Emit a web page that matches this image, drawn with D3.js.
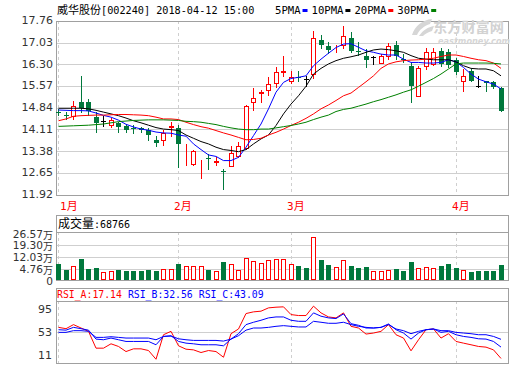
<!DOCTYPE html>
<html><head><meta charset="utf-8">
<script src="https://cdn.jsdelivr.net/npm/d3@7"></script>
<style>body{margin:0;background:#fff}svg{display:block}</style>
</head><body><svg id="c" width="520" height="365"></svg>
<script>
const stockName = "威华股份", stockCode = "002240", stamp = "2018-04-12 15:00";
const dates = ["2018-01-10","2018-01-11","2018-01-12","2018-01-15","2018-01-16","2018-01-17","2018-01-18","2018-01-19","2018-01-22","2018-01-23",
"2018-01-24","2018-01-25","2018-01-26","2018-01-29","2018-01-30","2018-01-31",
"2018-02-01","2018-02-02","2018-02-05","2018-02-06","2018-02-07","2018-02-08","2018-02-09","2018-02-12","2018-02-13","2018-02-14",
"2018-02-22","2018-02-23","2018-02-26","2018-02-27","2018-02-28",
"2018-03-01","2018-03-02","2018-03-05","2018-03-06","2018-03-07","2018-03-08","2018-03-09","2018-03-12","2018-03-13","2018-03-14",
"2018-03-15","2018-03-16","2018-03-19","2018-03-20","2018-03-21","2018-03-22","2018-03-23","2018-03-26","2018-03-27","2018-03-28",
"2018-03-29","2018-03-30",
"2018-04-02","2018-04-03","2018-04-04","2018-04-09","2018-04-10","2018-04-11","2018-04-12"];
const open = [14.69,14.58,14.55,15.04,15.02,14.54,14.40,14.27,14.31,14.22,
14.14,14.16,14.09,13.75,13.75,14.19,14.16,13.31,12.93,13.04,
13.15,13.00,12.70,12.89,13.23,13.49,15.02,15.32,15.44,15.67,
16.04,15.75,15.86,15.82,15.97,17.11,16.90,16.80,16.95,17.17,
16.76,16.56,16.53,16.34,16.58,16.94,16.46,16.23,15.24,16.25,
16.31,16.75,16.72,16.45,15.75,16.08,15.58,15.73,15.71,15.49];
const high = [14.78,14.68,15.07,15.91,15.13,14.68,14.55,14.48,14.37,14.29,
14.24,14.20,14.17,13.90,14.10,14.35,14.26,13.62,13.42,13.08,
13.28,13.17,12.78,13.56,13.68,14.93,15.49,15.44,15.86,16.19,
16.58,16.08,16.08,15.91,17.42,17.28,17.05,16.95,17.60,17.39,
17.05,16.81,16.59,16.64,17.03,17.09,16.64,16.36,16.23,16.86,
16.86,16.86,16.81,16.50,16.14,16.14,15.91,15.75,15.72,15.52];
const low = [14.58,14.46,14.44,14.68,14.59,14.03,14.22,14.15,14.03,14.01,
13.99,14.03,13.75,13.54,13.56,13.85,12.84,12.89,12.87,12.45,
12.78,12.89,12.09,12.87,13.14,13.43,14.74,15.00,15.24,15.51,
15.86,15.63,15.72,15.58,15.82,16.83,16.67,16.67,16.81,16.70,
16.61,16.19,16.31,16.31,16.45,16.47,16.36,15.04,15.22,16.12,
16.25,16.25,16.19,15.97,15.38,15.72,15.52,15.41,15.50,14.74];
const close = [14.65,14.57,14.88,14.82,14.74,14.31,14.40,14.44,14.20,14.09,
14.13,14.09,13.93,13.64,13.99,14.22,13.62,13.33,13.37,13.06,
13.14,13.05,12.69,13.31,13.54,14.91,15.15,15.38,15.62,16.03,
16.06,15.86,15.83,15.82,17.17,16.95,16.79,16.82,17.26,16.75,
16.75,16.45,16.53,16.56,16.90,16.58,16.45,15.58,16.16,16.70,
16.72,16.31,16.27,16.03,15.89,15.75,15.58,15.66,15.52,14.74];
const ma5 = [14.76,14.75,14.74,14.74,14.73,14.66,14.58,14.52,14.42,14.28,
14.19,14.12,14.08,14.02,13.99,13.98,13.92,13.88,13.62,13.43,
13.25,13.20,13.06,13.06,13.17,13.51,13.90,14.29,14.80,15.36,
15.69,15.82,15.86,15.91,16.25,16.47,16.67,16.86,16.98,16.99,
16.87,16.75,16.70,16.64,16.61,16.61,16.47,16.36,16.36,16.34,
16.34,16.36,16.45,16.38,16.19,15.97,15.80,15.71,15.63,15.47];
const ma10 = [14.82,14.82,14.82,14.82,14.80,14.75,14.69,14.63,14.57,14.49,
14.40,14.33,14.25,14.17,14.12,14.10,14.07,13.92,13.81,13.70,
13.62,13.51,13.43,13.40,13.36,13.43,13.62,13.79,13.92,14.24,
14.63,14.96,15.24,15.56,15.97,16.16,16.31,16.42,16.50,16.55,
16.61,16.70,16.78,16.81,16.79,16.75,16.70,16.59,16.50,16.47,
16.45,16.45,16.45,16.38,16.25,16.16,16.14,16.14,16.08,15.91];
const ma20 = [14.40,14.46,14.55,14.57,14.58,14.59,14.59,14.60,14.61,14.61,
14.60,14.59,14.57,14.52,14.46,14.46,14.44,14.35,14.27,14.20,
14.15,14.07,13.99,13.92,13.84,13.76,13.77,13.81,13.92,14.01,
14.12,14.24,14.35,14.48,14.63,14.80,14.93,15.08,15.24,15.33,
15.52,15.71,15.91,16.16,16.31,16.38,16.42,16.44,16.45,16.47,
16.50,16.56,16.61,16.61,16.56,16.50,16.45,16.42,16.34,16.16];
const ma30 = [14.21,14.22,14.23,14.24,14.25,14.27,14.29,14.33,14.37,14.39,
14.41,14.42,14.43,14.43,14.43,14.42,14.41,14.38,14.37,14.35,
14.31,14.27,14.21,14.16,14.12,14.10,14.10,14.12,14.12,14.16,
14.20,14.24,14.29,14.35,14.44,14.52,14.59,14.71,14.78,14.82,
14.89,14.96,15.04,15.11,15.19,15.27,15.36,15.44,15.56,15.69,
15.82,15.97,16.14,16.31,16.34,16.34,16.34,16.34,16.33,16.31];
const volume = [7.72,4.16,6.34,10.50,4.75,5.15,2.77,3.57,4.16,3.57,
3.57,3.57,4.16,3.57,4.56,4.56,7.72,6.34,6.34,6.34,
4.16,3.37,8.91,7.72,4.16,11.09,9.51,8.12,10.10,10.50,
10.50,7.72,6.54,5.35,23.57,10.10,7.13,5.74,10.10,6.54,
5.35,5.94,3.57,3.57,4.16,4.75,3.57,8.91,5.15,5.94,
5.15,6.54,7.72,5.35,4.16,2.97,3.57,3.57,3.57,6.88];
const lastVolume = "68766";
const rsiA = [59.3,57.5,63.0,58.4,53.9,31.1,31.1,37.0,33.4,26.5,
30.2,30.2,27.9,16.1,49.3,53.9,34.3,29.7,28.8,25.2,
27.9,26.5,18.8,50.7,57.1,78.0,80.3,81.2,85.7,86.6,
87.1,76.6,75.3,75.3,88.0,78.9,73.4,72.1,78.9,60.7,
58.4,50.2,51.6,53.9,63.0,49.3,44.8,27.5,42.5,56.1,
57.1,44.8,50.7,40.2,37.9,35.7,33.4,32.5,28.8,17.14];
const rsiB = [56.1,55.5,59.3,57.5,55.5,43.4,42.5,44.8,42.5,40.2,
40.2,40.2,40.2,35.7,47.0,47.9,40.2,37.9,37.0,35.7,
35.7,35.7,34.3,43.4,50.7,63.0,66.2,68.9,72.1,73.4,
73.4,68.9,67.5,67.5,78.9,74.4,72.1,71.2,77.5,64.3,
62.1,58.4,58.4,59.3,63.9,56.1,51.6,43.4,51.6,56.1,
57.1,52.5,53.9,49.3,47.0,45.7,43.8,43.4,40.2,32.56];
const rsiC = [52.5,52.5,54.8,54.8,53.9,45.7,45.7,46.6,45.7,44.8,
44.8,44.8,44.8,42.5,47.0,47.5,43.8,42.5,41.6,41.6,
41.6,41.6,40.7,43.4,48.0,55.5,58.4,58.4,59.3,60.7,
61.6,60.7,59.8,59.8,67.5,66.2,64.8,64.8,66.2,63.0,
60.7,59.3,58.4,59.3,63.0,57.1,54.8,50.7,53.9,56.1,
57.1,54.8,54.8,52.5,51.6,50.7,49.3,49.3,47.0,43.09];
const priceTicks = [11.92,12.65,13.38,14.11,14.84,15.57,16.30,17.03,17.76];
const volTicks = [0,4.76,12.03,19.30,26.57];
const rsiTicks = [11,53,95];
const maNames = ["5PMA","10PMA","20PMA","30PMA"];
const rsiNames = ["RSI_A","RSI_B","RSI_C"];

// ---------- layout / style ----------
const L = 56, R = 508;
const P = {top: 20.8, bottom: 194.5};
const V = {head: 215, top: 232.3, bottom: 280};
const S = {head: 288, top: 301, bottom: 363};
const RED = "#f00", GREEN = "#00783c", FRAME = "#a0a0a0", GRID = "#cfcfcf";
const maColors = ["#0000ff", "#000000", "#ff0000", "#008000"];
const rsiColors = ["#ff0000", "#0000ff", "#0000ff"];
const AX_FONT = "DejaVu Sans", MONO = "DejaVu Sans Mono", CJK = "Noto Sans CJK SC";

const svg = d3.select("#c");
const x = d3.scalePoint().domain(dates).range([58, 500.5]);
const y = d3.scaleLinear().domain([11.92, 17.76]).range([P.bottom, P.top]);
const yv = d3.scaleLinear().domain([0, 26.57]).range([277, V.top]);
const yr = d3.scaleLinear().domain([11, 95]).range([S.bottom, S.top]);
const N = dates.length;
const idx = d3.range(N);
const cx = i => Math.round(x(dates[i]));

const monthStarts = idx.filter(i => i === 0 || dates[i].slice(5,7) !== dates[i-1].slice(5,7));

// ---------- gridlines ----------
const grid = svg.append("g").attr("shape-rendering", "crispEdges");
priceTicks.forEach(t => grid.append("line").attr("x1", L).attr("x2", R)
  .attr("y1", Math.round(y(t)) + 0.5).attr("y2", Math.round(y(t)) + 0.5).attr("stroke", GRID));
volTicks.filter(t => t > 0).forEach(t => grid.append("line").attr("x1", L).attr("x2", R)
  .attr("y1", Math.round(yv(t)) + 0.5).attr("y2", Math.round(yv(t)) + 0.5).attr("stroke", GRID));
grid.append("line").attr("x1", L).attr("x2", R)
  .attr("y1", Math.round(yr(53)) + 0.5).attr("y2", Math.round(yr(53)) + 0.5).attr("stroke", GRID);
monthStarts.forEach(i => {
  [[P.top, P.bottom], [V.top, V.bottom], [S.top, S.bottom]].forEach(([a, b]) =>
    grid.append("line").attr("x1", cx(i) + 0.5).attr("x2", cx(i) + 0.5).attr("y1", a).attr("y2", b)
      .attr("stroke", GRID).attr("stroke-dasharray", "3,3"));
});

// ---------- frames ----------
const fr = svg.append("g").attr("shape-rendering", "crispEdges").attr("fill", "none").attr("stroke", FRAME);
fr.append("rect").attr("x", L + 0.5).attr("y", Math.round(P.top) + 0.5).attr("width", R - L).attr("height", Math.round(P.bottom) - Math.round(P.top));
fr.append("rect").attr("x", L + 0.5).attr("y", V.head + 0.5).attr("width", R - L).attr("height", V.bottom - V.head);
fr.append("line").attr("x1", L).attr("x2", R).attr("y1", Math.round(V.top) + 0.5).attr("y2", Math.round(V.top) + 0.5);
fr.append("rect").attr("x", L + 0.5).attr("y", S.head + 0.5).attr("width", R - L).attr("height", S.bottom - S.head);
fr.append("line").attr("x1", L).attr("x2", R).attr("y1", S.top + 0.5).attr("y2", S.top + 0.5);

// ---------- watermark ----------
svg.append("path").attr("d", "M412,35 C415,26 422,20 432,19 L430,24 C424,26 419,30 417,35 Z M419,36 C423,30 428,27 434,26 L432,31 C428,32 425,34 423,36 Z")
  .attr("fill", "#d6d6d6");
svg.append("text").attr("x", 433).attr("y", 32).attr("font-family", CJK).attr("font-weight", "bold")
  .attr("font-size", 14.2).attr("fill", "#d2d2d2").text("东方财富网");
svg.append("text").attr("x", 438).attr("y", 43.5).attr("font-family", AX_FONT).attr("font-weight", "bold")
  .attr("font-style", "italic").attr("font-size", 8.2).attr("fill", "#d6d6d6").text("eastmoney.com");

// ---------- candles ----------
const up = i => close[i] > open[i];
const flat = i => close[i] === open[i];
const cg = svg.append("g").attr("shape-rendering", "crispEdges");
idx.forEach(i => {
  const c = cx(i) + 0.5;
  const col = flat(i) ? "#000" : (up(i) ? RED : GREEN);
  const yt = Math.round(y(Math.max(open[i], close[i])));
  const yb = Math.round(y(Math.min(open[i], close[i])));
  const yh = Math.round(y(high[i])), yl = Math.round(y(low[i]));
  if (up(i)) {
    if (yh < yt) cg.append("line").attr("x1", c).attr("x2", c).attr("y1", yh).attr("y2", yt).attr("stroke", col);
    if (yl > yb) cg.append("line").attr("x1", c).attr("x2", c).attr("y1", yb).attr("y2", yl).attr("stroke", col);
    cg.append("rect").attr("x", cx(i) - 2 + 0.5).attr("y", yt + 0.5).attr("width", 4).attr("height", Math.max(yb - yt, 0))
      .attr("fill", "#fff").attr("stroke", col);
  } else {
    cg.append("line").attr("x1", c).attr("x2", c).attr("y1", yh).attr("y2", yl + 1).attr("stroke", col);
    cg.append("rect").attr("x", cx(i) - 2).attr("y", yt).attr("width", 5).attr("height", Math.max(yb - yt, 1))
      .attr("fill", col);
  }
});

// ---------- moving averages ----------
[ma5, ma10, ma20, ma30].forEach((arr, k) => {
  svg.append("path").datum(idx)
    .attr("d", d3.line().x(i => x(dates[i]) + 0.5).y(i => y(arr[i])))
    .attr("fill", "none").attr("stroke", maColors[k]).attr("stroke-width", 1);
});

// ---------- volume bars ----------
const vg = svg.append("g").attr("shape-rendering", "crispEdges");
idx.forEach(i => {
  const isUp = flat(i) ? (i > 0 && close[i] >= close[i-1]) : up(i);
  const top = Math.round(yv(volume[i]));
  if (isUp) {
    vg.append("rect").attr("x", cx(i) - 2 + 0.5).attr("y", top + 0.5).attr("width", 4).attr("height", V.bottom - top - 1)
      .attr("fill", "#fff").attr("stroke", RED);
  } else {
    vg.append("rect").attr("x", cx(i) - 2).attr("y", top).attr("width", 5).attr("height", V.bottom - top)
      .attr("fill", GREEN);
  }
});

// ---------- RSI lines ----------
[rsiA, rsiB, rsiC].forEach((arr, k) => {
  svg.append("path").datum(idx)
    .attr("d", d3.line().x(i => x(dates[i]) + 0.5).y(i => yr(arr[i])))
    .attr("fill", "none").attr("stroke", rsiColors[k]).attr("stroke-width", 1);
});

// ---------- axis labels ----------
const ax = svg.append("g").attr("font-family", AX_FONT).attr("font-size", 11).attr("fill", "#333")
  .attr("text-anchor", "end").attr("dominant-baseline", "central");
const fmt = d3.format(".2f");
priceTicks.forEach(t => ax.append("text").attr("x", 53).attr("y", y(t)).text(fmt(t)));
volTicks.forEach(t => {
  const tx = ax.append("text").attr("x", 53).attr("font-size", 10.6)
    .attr("y", t === 0 ? V.bottom + 0.5 : Math.max(yv(t), V.top + 1.5));
  if (t === 0) tx.text("0");
  else { tx.append("tspan").text(fmt(t)); tx.append("tspan").attr("font-family", CJK).attr("font-size", 10).text("万"); }
});
rsiTicks.forEach(t => ax.append("text").attr("x", 52).attr("y", Math.min(Math.max(yr(t), S.top + 8), S.bottom - 8)).text(t));

// month labels
monthStarts.forEach(i => {
  const m = +dates[i].slice(5,7);
  const t = svg.append("text").attr("x", Math.max(cx(i) - 4, L + 4)).attr("y", 210).attr("fill", RED).attr("font-size", 11);
  t.append("tspan").attr("font-family", MONO).text(m);
  t.append("tspan").attr("font-family", CJK).text("月");
});

// ---------- headers ----------
const title = svg.append("text").attr("x", 57).attr("y", 14).attr("fill", "#000");
title.append("tspan").attr("font-family", CJK).attr("font-size", 11).text(stockName);
title.append("tspan").attr("font-family", MONO).attr("font-size", 10.2).text(`[${stockCode}] ${stamp}`);

let lx = 275;
maNames.forEach((n, k) => {
  const t = svg.append("text").attr("x", lx).attr("y", 14).attr("font-family", MONO).attr("font-size", 10.6).attr("fill", "#000").text(n);
  const w = t.node().getComputedTextLength();
  svg.append("rect").attr("x", lx + w + 2).attr("y", 9).attr("width", 5).attr("height", 3).attr("fill", maColors[k]);
  lx += w + 11;
});

const vt = svg.append("text").attr("x", 58).attr("y", 228).attr("fill", "#000");
vt.append("tspan").attr("font-family", CJK).attr("font-size", 12).text("成交量");
vt.append("tspan").attr("font-family", MONO).attr("font-size", 10).text(":" + lastVolume);

let rx = 57;
[rsiA, rsiB, rsiC].forEach((arr, k) => {
  const t = svg.append("text").attr("x", rx).attr("y", 298).attr("font-family", MONO).attr("font-size", 9.8)
    .attr("fill", rsiColors[k]).text(`${rsiNames[k]}:${fmt(arr[N-1])}`);
  rx += t.node().getComputedTextLength() + 6;
});
</script></body></html>
